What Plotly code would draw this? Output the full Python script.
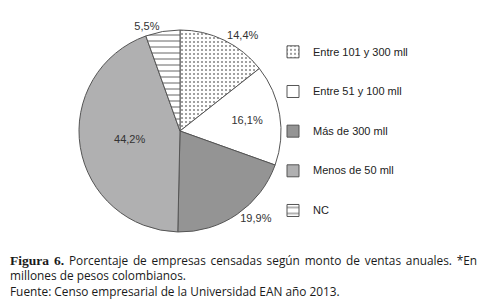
import plotly.graph_objects as go

categories = ["Entre 101 y 300 mll", "Entre 51 y 100 mll", "Más de 300 mll", "Menos de 50 mll", "NC"]
values = [14.4, 16.1, 19.9, 44.2, 5.5]
text_positions = ["outside", "inside", "outside", "inside", "outside"]

caption_lines = [
    "<span style='font-family:\"Liberation Serif\";font-size:13.5px'><b>Figura 6.</b></span> Porcentaje de empresas censadas según monto de ventas anuales. *En",
    "millones de pesos colombianos.",
    "Fuente: Censo empresarial de la Universidad EAN año 2013.",
]

W, H = 492, 299
OFF = 8  # page body margin offset in the screenshot


def px(x):
    return (x - OFF) / W


def py(y):
    return (H - (y - OFF)) / H


legend_labels = ["&nbsp;<br><span style='font-size:11px'>" + c + "</span><br>&nbsp;" for c in categories]

fig = go.Figure(go.Pie(
    labels=legend_labels,
    values=values,
    customdata=categories,
    sort=False,
    direction="clockwise",
    rotation=0,
    texttemplate="%{value:.1f}%",
    textposition=text_positions,
    insidetextorientation="horizontal",
    textfont=dict(family="Liberation Sans, Arial", size=11, color="#333333"),
    hovertemplate="%{customdata}: %{value}%<extra></extra>",
    marker=dict(
        colors=["#ffffff", "#ffffff", "#939393", "#b0b0b1", "#ffffff"],
        line=dict(color="#555555", width=1),
        pattern=dict(
            shape=[".", "", ".", "", "-"],
            fgcolor=["#8a8a8a", "#ffffff", "#666666", "#b0b0b1", "#555555"],
            bgcolor=["#ffffff", "#ffffff", "#b8b8b8", "#b0b0b1", "#ffffff"],
            size=[4, 8, 2, 8, 6],
            solidity=[0.22, 0.2, 0.5, 0.2, 0.15],
            fillmode="replace",
        ),
    ),
    domain=dict(x=[px(79), px(281)], y=[py(232), py(30)]),
    showlegend=True,
))

fig.add_annotation(
    text="<span style='word-spacing:1.7px'>" + caption_lines[0] + "</span><br>" + caption_lines[1] + "<br>" + caption_lines[2],
    xref="paper", yref="paper",
    x=0, y=py(250),
    xanchor="left", yanchor="top", showarrow=False,
    font=dict(family="Open Sans", size=11.85, color="#1a1a1a"),
    align="left",
)

fig.update_layout(
    width=W, height=H,
    margin=dict(l=0, r=0, t=0, b=0),
    paper_bgcolor="white",
    plot_bgcolor="white",
    separators=",.",
    legend=dict(
        x=px(273), y=py(27), xanchor="left", yanchor="top",
        font=dict(family="Liberation Sans, Arial", size=9.4, color="#222222"),
        bgcolor="rgba(0,0,0,0)",
        valign="middle",
    ),
)

fig.write_html("out.html")
